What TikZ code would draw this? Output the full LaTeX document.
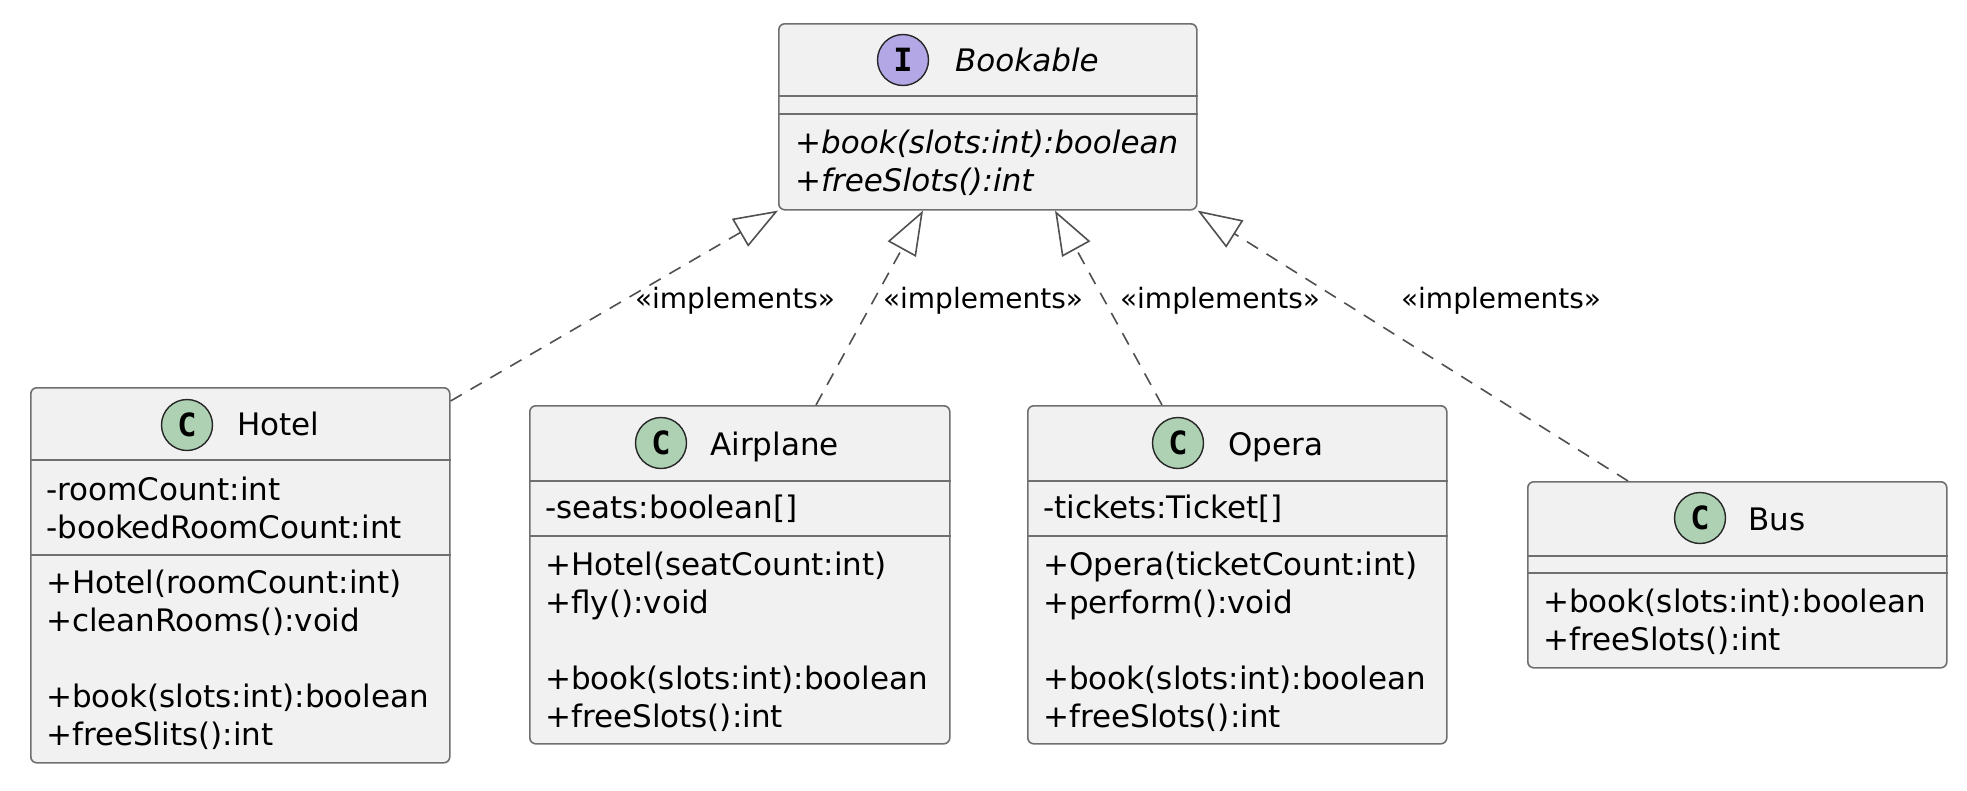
\documentclass[tikz,border=0pt]{standalone}
\usepackage{fontspec}
\setmainfont{DejaVu Sans}
\newfontfamily\circfont{DejaVu Sans Mono}
\usetikzlibrary{arrows.meta}
\definecolor{boxfill}{HTML}{F1F1F1}
\definecolor{boxline}{HTML}{6F6F6F}
\definecolor{edgecol}{HTML}{505050}
\definecolor{cgreen}{HTML}{ADD1B2}
\definecolor{ipurple}{HTML}{B4A7E5}
\tikzset{
  umlbox/.style={draw=boxline, fill=boxfill, line width=1.6pt, rounded corners=6pt, inner sep=0pt, anchor=north west},
  sepline/.style={draw=boxline, line width=1.6pt},
  classmark/.style={circle, draw=black!85, line width=1.4pt, minimum size=51pt, inner sep=0pt, font=\circfont\bfseries\fontsize{32}{32}\selectfont},
  ctitle/.style={anchor=base west, inner sep=0pt, font=\fontsize{31}{38}\selectfont},
  ititle/.style={anchor=base west, inner sep=0pt, font=\fontsize{31}{38}\selectfont\itshape},
  member/.style={anchor=base west, inner sep=0pt, font=\fontsize{31}{38}\selectfont},
  imember/.style={anchor=base west, inner sep=0pt, font=\fontsize{31}{38}\selectfont\itshape},
  impl/.style={draw=edgecol, line width=1.6pt, dash pattern=on 13pt off 10pt, -{Triangle[length=44pt,width=32pt,fill=white]}},
  impllabel/.style={anchor=base, inner sep=0pt, font=\fontsize{28}{34}\selectfont},
}
\begin{document}
\begin{tikzpicture}[x=1pt,y=-1pt]
\useasboundingbox (0,0) rectangle (1967,790);

% Bookable
\node[umlbox, minimum width=418pt, minimum height=186pt] (bookable) at (778,23) {};
\draw[sepline] (bookable.west |- 0,96) -- (bookable.east |- 0,96);
\draw[sepline] (bookable.west |- 0,114) -- (bookable.east |- 0,114);
\node[classmark, fill=ipurple] (bookable-c) at (903,60) {I};
\node[ititle] (bookable-t) at (955,71) {Bookable};
\node[imember] (bookable-m1) at (795,153) {+book(slots:int):boolean};
\node[imember] (bookable-m2) at (795,191) {+freeSlots():int};

% Hotel
\node[umlbox, minimum width=419pt, minimum height=375pt] (hotel) at (30,387) {};
\draw[sepline] (hotel.west |- 0,460) -- (hotel.east |- 0,460);
\draw[sepline] (hotel.west |- 0,555) -- (hotel.east |- 0,555);
\node[classmark, fill=cgreen] (hotel-c) at (187,425) {C};
\node[ctitle] (hotel-t) at (237,435) {Hotel};
\node[member] (hotel-f1) at (46,500) {-roomCount:int};
\node[member] (hotel-f2) at (46,538) {-bookedRoomCount:int};
\node[member] (hotel-m1) at (46,593) {+Hotel(roomCount:int)};
\node[member] (hotel-m2) at (46,631) {+cleanRooms():void};
\node[member] (hotel-m3) at (46,707) {+book(slots:int):boolean};
\node[member] (hotel-m4) at (46,745) {+freeSlits():int};

% Airplane
\node[umlbox, minimum width=420pt, minimum height=338pt] (airplane) at (529,405) {};
\draw[sepline] (airplane.west |- 0,481) -- (airplane.east |- 0,481);
\draw[sepline] (airplane.west |- 0,536) -- (airplane.east |- 0,536);
\node[classmark, fill=cgreen] (airplane-c) at (661,443) {C};
\node[ctitle] (airplane-t) at (710,455) {Airplane};
\node[member] (airplane-f1) at (545,518) {-seats:boolean[]};
\node[member] (airplane-m1) at (545,575) {+Hotel(seatCount:int)};
\node[member] (airplane-m2) at (545,613) {+fly():void};
\node[member] (airplane-m3) at (545,689) {+book(slots:int):boolean};
\node[member] (airplane-m4) at (545,727) {+freeSlots():int};

% Opera
\node[umlbox, minimum width=419pt, minimum height=338pt] (opera) at (1027,405) {};
\draw[sepline] (opera.west |- 0,481) -- (opera.east |- 0,481);
\draw[sepline] (opera.west |- 0,536) -- (opera.east |- 0,536);
\node[classmark, fill=cgreen] (opera-c) at (1178,443) {C};
\node[ctitle] (opera-t) at (1228,455) {Opera};
\node[member] (opera-f1) at (1043,518) {-tickets:Ticket[]};
\node[member] (opera-m1) at (1043,575) {+Opera(ticketCount:int)};
\node[member] (opera-m2) at (1043,613) {+perform():void};
\node[member] (opera-m3) at (1043,689) {+book(slots:int):boolean};
\node[member] (opera-m4) at (1043,727) {+freeSlots():int};

% Bus
\node[umlbox, minimum width=419pt, minimum height=186pt] (bus) at (1527,481) {};
\draw[sepline] (bus.west |- 0,556) -- (bus.east |- 0,556);
\draw[sepline] (bus.west |- 0,573) -- (bus.east |- 0,573);
\node[classmark, fill=cgreen] (bus-c) at (1700,518) {C};
\node[ctitle] (bus-t) at (1748,530) {Bus};
\node[member] (bus-m1) at (1543,612) {+book(slots:int):boolean};
\node[member] (bus-m2) at (1543,650) {+freeSlots():int};

% realizations
\draw[impl] ([yshift=-14pt]hotel.north east) -- (bookable.south west);
\draw[impl] (airplane.north -| 816,0) -- (bookable.south -| 923,0);
\draw[impl] (opera.north -| 1162,0) -- (bookable.south -| 1055,0);
\draw[impl] (bus.north -| 1628,0) -- (bookable.south east);

\node[impllabel] (lbl-hotel) at (735,308) {«implements»};
\node[impllabel] (lbl-airplane) at (983,308) {«implements»};
\node[impllabel] (lbl-opera) at (1220,308) {«implements»};
\node[impllabel] (lbl-bus) at (1501,308) {«implements»};
\end{tikzpicture}
\end{document}
